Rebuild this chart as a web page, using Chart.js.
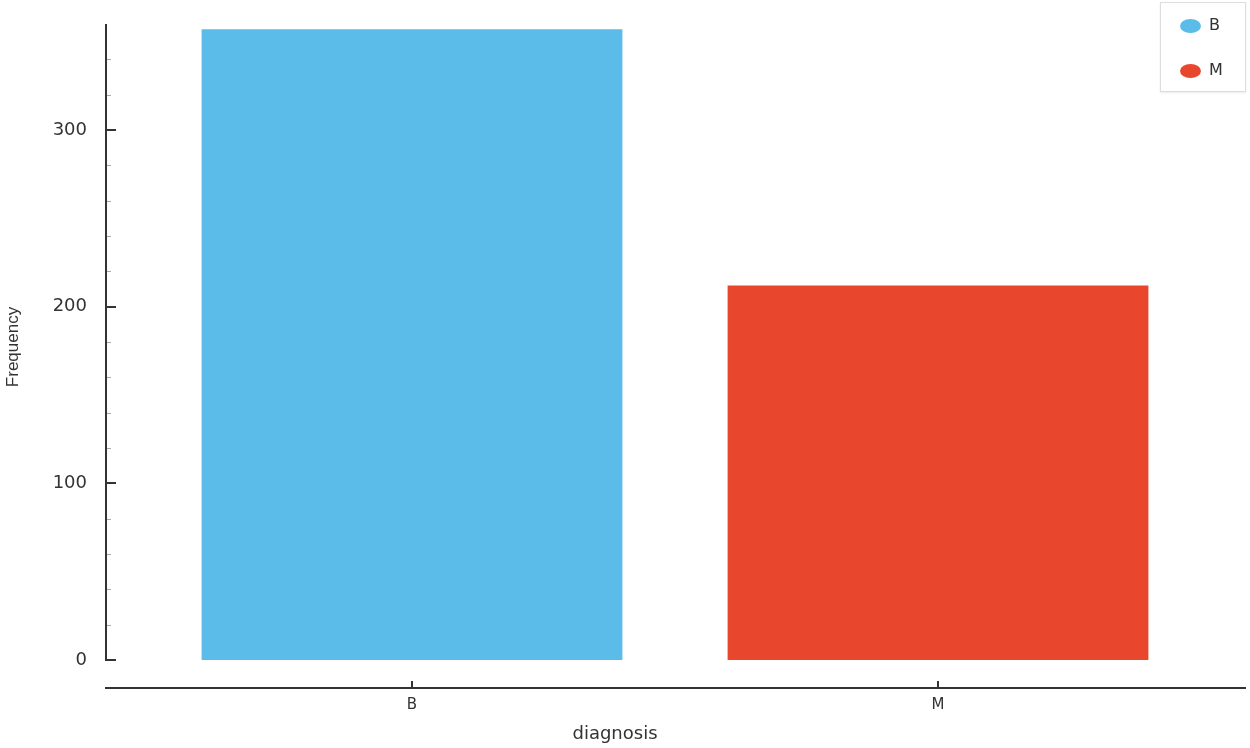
<!DOCTYPE html>
<html>
<head>
<meta charset="utf-8">
<script src="https://cdn.jsdelivr.net/npm/chart.js@4/dist/chart.umd.min.js"></script>
<style>
  body { margin: 0; background: #fff; }
  #wrap { position: relative; width: 1250px; height: 748px; }
  #legend {
    position: absolute; left: 1160px; top: 2px; width: 84px; height: 88px;
    border: 1px solid #ddd; background: #fff; box-shadow: 0 1px 2px rgba(0,0,0,0.08);
    font-family: "DejaVu Sans", sans-serif; font-size: 16px; color: #333;
  }
  .item { position: absolute; left: 19px; height: 20px; line-height: 20px; }
  .dot { display: inline-block; width: 21px; height: 14px; border-radius: 50%; vertical-align: middle; margin-right: 8px; }
</style>
</head>
<body>
<div id="wrap">
  <canvas id="chart" width="1250" height="748"></canvas>
  <div id="legend"></div>
</div>
<script>
const categories = ['B', 'M'];
const counts = [357, 212];
const colors = ['#5BBBE9', '#E8472E'];
const yTicks = [0, 100, 200, 300];
const yMin = -15.85;
const yMax = 360;

// legend
const legend = document.getElementById('legend');
categories.forEach((c, i) => {
  const d = document.createElement('div');
  d.className = 'item';
  d.style.top = (12 + i * 45) + 'px';
  d.innerHTML = '<span class="dot" style="background:' + colors[i] + '"></span>' + c;
  legend.appendChild(d);
});

const axesPlugin = {
  id: 'axes',
  afterDraw(chart) {
    const { ctx, chartArea, scales: { x, y } } = chart;
    const ax = 106;
    ctx.save();
    // minor ticks
    ctx.strokeStyle = '#aaa';
    ctx.lineWidth = 1;
    for (let v = 20; v < yMax; v += 20) {
      if (v % 100 === 0) continue;
      const py = Math.round(y.getPixelForValue(v)) + 0.5;
      ctx.beginPath(); ctx.moveTo(ax, py); ctx.lineTo(ax + 5, py); ctx.stroke();
    }
    // major ticks
    ctx.strokeStyle = '#333';
    ctx.lineWidth = 2;
    yTicks.forEach(v => {
      const py = Math.round(y.getPixelForValue(v));
      ctx.beginPath(); ctx.moveTo(ax, py); ctx.lineTo(ax + 10, py); ctx.stroke();
    });
    // y axis line
    ctx.beginPath();
    ctx.moveTo(ax, y.getPixelForValue(yMax));
    ctx.lineTo(ax, Math.round(y.getPixelForValue(0)) + 1);
    ctx.stroke();
    // x axis line
    const by = chartArea.bottom;
    ctx.beginPath(); ctx.moveTo(105, by); ctx.lineTo(1246, by); ctx.stroke();
    categories.forEach((c, i) => {
      const px = Math.round(x.getPixelForValue(i));
      ctx.beginPath(); ctx.moveTo(px, by - 7); ctx.lineTo(px, by); ctx.stroke();
    });
    // titles
    ctx.fillStyle = '#333';
    ctx.font = '18px "DejaVu Sans"';
    ctx.textAlign = 'center';
    ctx.textBaseline = 'middle';
    ctx.fillText('diagnosis', 615, 734);
    ctx.translate(13, 347);
    ctx.rotate(-Math.PI / 2);
    ctx.font = '17px "Liberation Sans"';
    ctx.fillText('Frequency', 0, 0);
    ctx.restore();
  }
};

new Chart(document.getElementById('chart'), {
  type: 'bar',
  data: {
    labels: categories,
    datasets: [{
      label: 'Frequency',
      data: counts,
      backgroundColor: colors,
      borderWidth: 0,
      barPercentage: 0.8,
      categoryPercentage: 1.0
    }]
  },
  options: {
    responsive: false,
    animation: false,
    layout: { padding: { top: 24, right: 49, left: 0, bottom: 0 } },
    plugins: { legend: { display: false }, tooltip: { enabled: false } },
    scales: {
      x: {
        grid: { display: false },
        border: { display: false },
        ticks: { color: '#333', font: { family: 'DejaVu Sans', size: 15 }, padding: 0 },
        afterFit(s) { s.height = 60; s.paddingLeft = 0; s.paddingRight = 0; }
      },
      y: {
        min: yMin,
        max: yMax,
        grid: { display: false },
        border: { display: false },
        ticks: { color: '#333', font: { family: 'DejaVu Sans', size: 18 }, padding: 54 },
        afterBuildTicks(s) { s.ticks = yTicks.map(v => ({ value: v })); },
        afterFit(s) { s.width = 149; s.paddingTop = 0; s.paddingBottom = 0; }
      }
    }
  },
  plugins: [axesPlugin]
});
</script>
</body>
</html>
